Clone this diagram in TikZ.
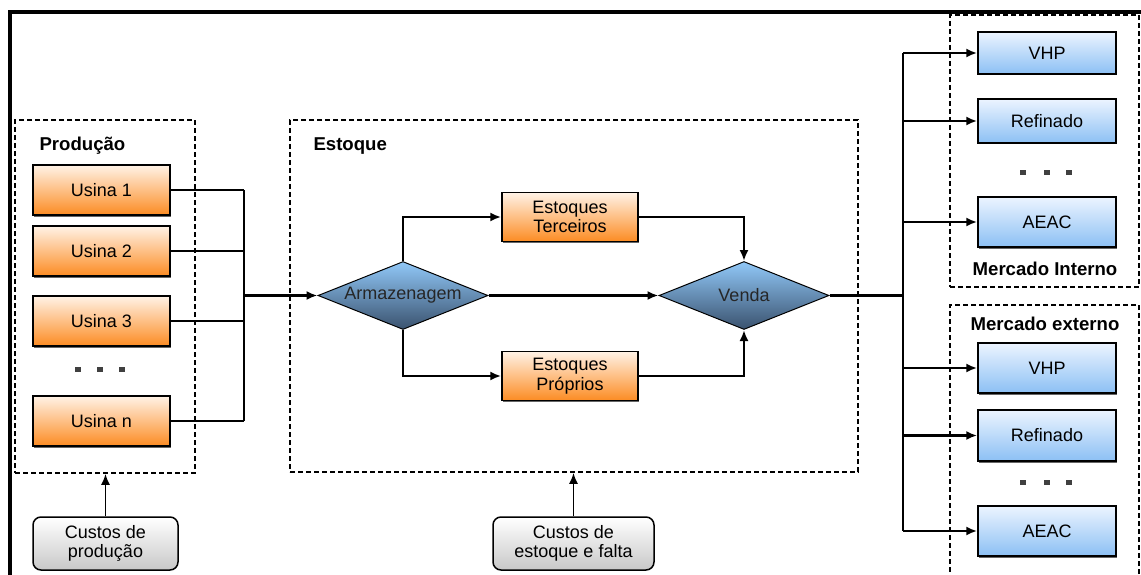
\documentclass[tikz,border=0pt]{standalone}
\usepackage{fontspec}
\setmainfont{Liberation Sans}
\usetikzlibrary{positioning,shapes.geometric,shadows,arrows.meta}

\definecolor{laranjaclaro}{RGB}{255,242,230}
\definecolor{laranja}{RGB}{252,140,35}
\definecolor{azulclaro}{RGB}{236,244,255}
\definecolor{azul}{RGB}{140,192,244}
\definecolor{losangoalto}{RGB}{145,200,248}
\definecolor{losangobaixo}{RGB}{58,82,110}
\definecolor{cinza}{RGB}{200,200,200}

\begin{document}
\begin{tikzpicture}[x=1pt,y=-1pt,>={Latex[length=11pt,width=9pt]},
  every node/.style={font=\fontsize{18}{19.5}\selectfont},
  caixa/.style={draw,line width=1.5pt,minimum width=137pt,minimum height=50pt,inner sep=0pt,align=center,
    drop shadow={shadow xshift=1.2pt,shadow yshift=-1.5pt,opacity=.6,fill=black}},
  usina/.style={caixa,top color=laranjaclaro,bottom color=laranja},
  mercado/.style={caixa,minimum width=138pt,top color=azulclaro,bottom color=azul},
  losango/.style={diamond,draw,line width=1pt,minimum width=170pt,minimum height=68pt,inner sep=0pt,
    top color=losangoalto,bottom color=losangobaixo,text=black!85},
  custo/.style={draw,line width=1.5pt,rounded corners=8pt,minimum height=53pt,inner sep=0pt,align=center,
    top color=white,bottom color=cinza},
  grupo/.style={draw,line width=1.6pt,dash pattern=on 5pt off 3pt,inner sep=0pt},
  titulo/.style={font=\fontsize{18.6}{19.5}\selectfont\bfseries},
  liga/.style={line width=2.2pt},
  ponto/.style={fill=black!75,minimum width=6pt,minimum height=5pt,inner sep=0pt}]

\useasboundingbox (0,0) rectangle (1141,575);
\clip (0,0) rectangle (1141,575);

\draw[line width=4pt] (10,590) -- (10,12) -- (1150,12);

\node[grupo,minimum width=180pt,minimum height=353pt] (prod) at (105,296.5) {};
\node[grupo,minimum width=568pt,minimum height=352pt] (est) at (574,296) {};
\node[grupo,minimum width=189pt,minimum height=272pt] (interno) at (1044.5,151) {};
\node[grupo,minimum width=189pt,minimum height=280pt] (externo) at (1044.5,445) {};

\node[titulo,anchor=west] (tprod) at (36,146) {Produção};
\node[titulo,anchor=west] (test) at (310,146) {Estoque};
\node[titulo] (tint) at (1045,269) {Mercado Interno};
\node[titulo] (text) at (1045,324) {Mercado externo};

\node[usina] (usina1) at (101.5,190) {Usina 1};
\node[usina] (usina2) at (101.5,251) {Usina 2};
\node[usina] (usina3) at (101.5,321) {Usina 3};
\node[usina] (usinan) at (101.5,421) {Usina n};
\foreach \x [count=\i] in {78,100,122}
  \node[ponto] (pp\i) at (\x,369) {};

\node[losango] (arm) at (403,295.5) {\makebox[0pt]{Armazenagem}};
\node[losango] (venda) at (744,295.5) {\makebox[0pt]{Venda}};
\node[usina,minimum width=136pt,minimum height=49pt] (terc) at (570,217) {Estoques\\Terceiros};
\node[usina,minimum width=136pt,minimum height=49pt] (prop) at (570,376) {Estoques\\Próprios};

\node[mercado,minimum height=42pt] (vhpI) at (1047,53) {VHP};
\node[mercado,minimum height=44pt] (refI) at (1047,121) {Refinado};
\node[mercado] (aeacI) at (1047,222) {AEAC};
\node[mercado] (vhpE) at (1047,368) {VHP};
\node[mercado,minimum height=51pt] (refE) at (1047,435.5) {Refinado};
\node[mercado] (aeacE) at (1047,531) {AEAC};
\foreach \x [count=\i] in {1023,1047,1069} {
  \node[ponto] (pi\i) at (\x,173) {};
  \node[ponto] (pe\i) at (\x,482) {};
}

\node[custo,minimum width=145pt] (cprod) at (105.5,543.5) {Custos de\\produção};
\node[custo,minimum width=161pt] (cest) at (573.5,543.5) {Custos de\\estoque e falta};

\coordinate (junta) at (244,295.5);
\coordinate (tronco) at (903,295.5);

\foreach \u in {usina1,usina2,usina3,usinan}
  \draw[liga] (\u.east) -- (junta |- \u);
\draw[liga] (junta |- usina1) -- (junta |- usinan);
\draw[liga,->] (junta) -- (arm.west);
\draw[liga,->] (arm.north) |- (terc.west);
\draw[liga,->] (arm.south) |- (prop.west);
\draw[liga,->] (terc.east) -| (venda.north);
\draw[liga,->] (prop.east) -| (venda.south);
\draw[liga,->] (arm.east) -- (venda.west);
\draw[liga] (venda.east) -- (tronco);
\draw[liga] (tronco |- vhpI) -- (tronco |- aeacE);
\foreach \m in {vhpI,refI,aeacI,vhpE,refE,aeacE}
  \draw[liga,->] (tronco |- \m) -- (\m.west);
\draw[line width=1.8pt,->] (cprod.north) -- (cprod.north |- prod.south);
\draw[line width=1.8pt,->] (cest.north) -- (cest.north |- est.south);
\end{tikzpicture}
\end{document}
